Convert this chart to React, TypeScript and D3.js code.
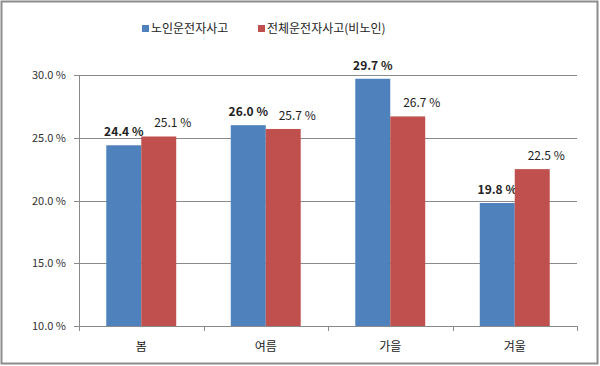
import React from 'react';
import * as d3 from 'd3';

const seasons = ['봄', '여름', '가을', '겨울'];
const seriesNames = ['노인운전자사고', '전체운전자사고(비노인)'];
const elderly = [24.4, 26.0, 29.7, 19.8];
const overall = [25.1, 25.7, 26.7, 22.5];
const yTicks = [10, 15, 20, 25, 30];
const colors = ['#4F81BD', '#C0504D'];

const W = 600;
const H = 366;
const font = '"Noto Sans CJK KR", "Noto Sans", sans-serif';

const App = () => {
    const left = 79;
    const right = 577;
    const top = 75;
    const bottom = 326;

    // category bands, each holding two bars
    const x = d3.scaleBand<string>().domain(seasons).range([left, right]).padding(0);
    const inner = d3.scaleBand<number>().domain([0, 1]).range([0, x.bandwidth()]).paddingOuter(0.78).paddingInner(0);
    const y = d3.scaleLinear().domain([10, 30]).range([bottom, top]);

    const series = [elderly, overall];
    // red labels sit a little to the right of their bars, like the original
    const labelShift = [0, 14];

    return (
        <svg width={W} height={H} style={{ position: 'absolute', left: 0, top: 0 }} fontFamily={font}>
            <rect x={0} y={0} width={W} height={H} fill="#fff" />
            <rect x={1.5} y={1.5} width={W - 4} height={H - 4} fill="none" stroke="#8c8c8c" strokeWidth={2} />

            {/* legend */}
            {seriesNames.map((name, i) => {
                const lx = i === 0 ? 142 : 258;
                return (
                    <g key={name}>
                        <rect x={lx} y={25} width={7} height={7} fill={colors[i]} />
                        <text x={lx + 9} y={33} fontSize={12} fill="#222">{name}</text>
                    </g>
                );
            })}

            {/* gridlines and y axis */}
            {yTicks.map(t => (
                <g key={t}>
                    <line x1={left - 5} x2={right} y1={Math.round(y(t)) + 0.5} y2={Math.round(y(t)) + 0.5}
                        stroke="#8a8a8a" strokeWidth={1} />
                    <text x={66} y={y(t) + 4} fontSize={11} fill="#333" textAnchor="end">{t.toFixed(1)} %</text>
                </g>
            ))}
            <line x1={left + 0.5} x2={left + 0.5} y1={top} y2={bottom} stroke="#8a8a8a" />

            {/* bars */}
            {seasons.map((s, ci) => (
                <g key={s}>
                    {series.map((vals, si) => {
                        const bx = (x(s) as number) + (inner(si) as number);
                        const v = vals[ci];
                        return (
                            <g key={si}>
                                <rect x={bx} y={y(v)} width={inner.bandwidth()} height={bottom - y(v)} fill={colors[si]} />
                                <text x={bx + inner.bandwidth() / 2 + labelShift[si]} y={y(v) - 9} fontSize={12}
                                    fontWeight={si === 0 ? 'bold' : 'normal'} fill="#222" textAnchor="middle">
                                    {v.toFixed(1)} %
                                </text>
                            </g>
                        );
                    })}
                    <text x={(x(s) as number) + x.bandwidth() / 2} y={351} fontSize={12} fill="#222" textAnchor="middle">{s}</text>
                </g>
            ))}

            {/* x axis */}
            <line x1={left} x2={right} y1={bottom + 0.5} y2={bottom + 0.5} stroke="#8a8a8a" />
            {[...seasons.map(s => x(s) as number), right].map((tx, i) => (
                <line key={i} x1={Math.round(tx) + 0.5} x2={Math.round(tx) + 0.5} y1={bottom} y2={bottom + 5} stroke="#8a8a8a" />
            ))}
        </svg>
    );
};

export default App;
